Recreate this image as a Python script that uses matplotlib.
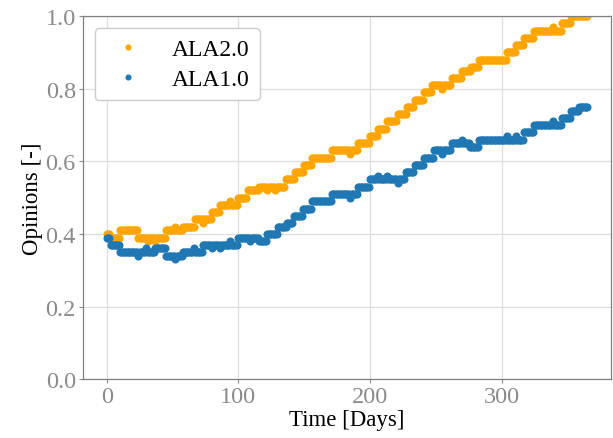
import numpy as np
import matplotlib.pyplot as plt

# step levels: (start day, opinion)
ala2_start = [0, 3, 10, 24, 45, 58, 67, 80, 86, 100, 107, 116, 136, 143, 150,
              156, 171, 191, 200, 206, 213, 221, 228, 234, 241, 247, 262, 270,
              277, 283, 304, 311, 317, 325, 346, 353]
ala2_level = [0.40, 0.39, 0.41, 0.39, 0.41, 0.42, 0.44, 0.46, 0.48, 0.50, 0.52,
              0.53, 0.55, 0.57, 0.59, 0.61, 0.63, 0.65, 0.67, 0.69, 0.71, 0.73,
              0.75, 0.77, 0.79, 0.81, 0.83, 0.85, 0.86, 0.88, 0.90, 0.92, 0.94,
              0.96, 0.98, 1.00]
# single-day deviations
ala2_spike_day = [31, 37, 52, 73, 94, 122, 128, 185, 255, 339]
ala2_spike_val = [0.38, 0.38, 0.42, 0.43, 0.49, 0.52, 0.52, 0.62, 0.80, 0.97]

ala1_start = [0, 3, 10, 37, 45, 58, 73, 100, 116, 122, 130, 137, 142, 149, 156,
              171, 191, 200, 227, 234, 241, 249, 262, 276, 283, 317, 325, 346,
              353, 359]
ala1_level = [0.39, 0.37, 0.35, 0.36, 0.34, 0.35, 0.37, 0.39, 0.38, 0.40, 0.42,
              0.43, 0.45, 0.47, 0.49, 0.51, 0.53, 0.55, 0.57, 0.59, 0.61, 0.63,
              0.65, 0.64, 0.66, 0.68, 0.70, 0.72, 0.74, 0.75]
ala1_spike_day = [24, 30, 52, 66, 80, 86, 94, 109, 185, 206, 213, 221, 255,
                  270, 304, 311, 339]
ala1_spike_val = [0.34, 0.36, 0.33, 0.36, 0.36, 0.36, 0.38, 0.38, 0.50, 0.56,
                  0.56, 0.54, 0.62, 0.66, 0.67, 0.67, 0.71]

n_days = 366


def daily(starts, levels, spike_days, spike_vals):
    lengths = np.diff(starts + [n_days])
    y = np.repeat(levels, lengths).astype(float)
    y[spike_days] = spike_vals
    return y


days = np.arange(n_days)
ala2 = daily(ala2_start, ala2_level, ala2_spike_day, ala2_spike_val)
ala1 = daily(ala1_start, ala1_level, ala1_spike_day, ala1_spike_val)

plt.rcParams["font.family"] = ["Liberation Serif", "DejaVu Serif"]

fig, ax = plt.subplots(figsize=(6.13, 4.39), dpi=100)
fig.subplots_adjust(left=0.135, right=0.997, bottom=0.134, top=0.961)

ax.plot(days, ala2, "o", color="#FFA500", markersize=4.8, label="ALA2.0")
ax.plot(days, ala1, "o", color="#1f77b4", markersize=4.8, label="ALA1.0")

ax.set_ylim(0, 1.0)
ax.set_xticks([0, 100, 200, 300])
ax.set_yticks([0.0, 0.2, 0.4, 0.6, 0.8, 1.0])
ax.set_xlabel("Time [Days]", fontsize=16.5, labelpad=1)
ax.set_ylabel("Opinions [-]", fontsize=16.5, labelpad=2)
ax.tick_params(labelsize=17.5, colors="#8a8a8a", length=3, width=0.8, pad=2)
ax.grid(True, color="#dddddd", linewidth=0.9)
ax.set_axisbelow(True)
for s in ax.spines.values():
    s.set_color("#808080")
    s.set_linewidth(0.9)

ax.legend(loc="upper left", fontsize=17, handletextpad=0.85,
          markerscale=0.7, borderpad=0.45, labelspacing=0.35,
          handlelength=1.95, edgecolor="#cccccc", framealpha=1.0,
          bbox_to_anchor=(0.0, 1.0))

plt.savefig("out.png", dpi=100)
